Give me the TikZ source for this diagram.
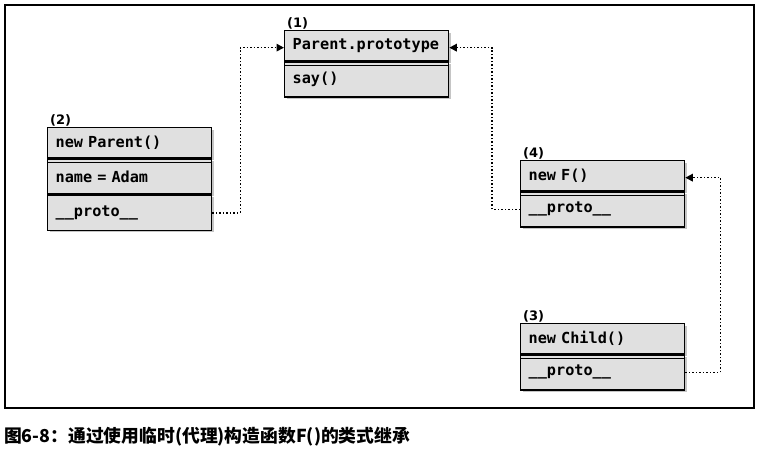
\documentclass[tikz,border=0pt]{standalone}
\usepackage{fontspec}
\setmonofont{DejaVu Sans Mono}
\setsansfont{DejaVu Sans}
\newfontfamily\cjkfont{Noto Sans CJK SC}
\usetikzlibrary{arrows.meta,shadows}

\begin{document}
\begin{tikzpicture}[x=1pt, y=-1pt, >={Triangle[length=7.5pt,width=7.5pt]},
    cell/.style={draw, line width=1.3pt, fill=black!12, anchor=north west,
        minimum width=164pt, text width=148pt, inner xsep=8pt, align=left,
        font=\ttfamily\bfseries\fontsize{15.2}{17}\selectfont,
        drop shadow={shadow xshift=2pt, shadow yshift=-2pt, fill=black!45}},
    head/.style={cell, minimum height=30pt},
    body/.style={cell, minimum height=35pt},
    tag/.style={anchor=south west, inner sep=1pt, font=\sffamily\bfseries\fontsize{13}{15}\selectfont},
    link/.style={->, dotted, line width=1.5pt}]
    \useasboundingbox (0,0) rectangle (760,455);
    \draw[line width=1.3pt] (5,5) rectangle (754,408);

    % (1) the prototype
    \node[head] (p1head) at (284,30) {Parent.prototype};
    \node[body] (p1say) at (p1head.south west) {say()};
    \draw[line width=1.3pt] ([yshift=-4pt]p1head.south west) -- ([yshift=-4pt]p1head.south east);
    \node[tag] (t1) at ([xshift=2pt]p1head.north west) {(1)};

    % (2) parent object
    \node[head] (p2head) at (47,127) {new Parent()};
    \node[body] (p2name) at (p2head.south west) {name = Adam};
    \node[body] (p2proto) at (p2name.south west) {\_\_proto\_\_};
    \draw[line width=1.3pt] ([yshift=-4pt]p2head.south west) -- ([yshift=-4pt]p2head.south east);
    \node[tag] (t2) at ([xshift=2pt]p2head.north west) {(2)};

    % (4) temporary proxy
    \node[head] (p4head) at (520,160) {new F()};
    \node[body] (p4proto) at (p4head.south west) {\_\_proto\_\_};
    \draw[line width=1.3pt] ([yshift=-4pt]p4head.south west) -- ([yshift=-4pt]p4head.south east);
    \node[tag] (t4) at ([xshift=2pt]p4head.north west) {(4)};

    % (3) child object
    \node[head] (p3head) at (520,323) {new Child()};
    \node[body] (p3proto) at (p3head.south west) {\_\_proto\_\_};
    \draw[line width=1.3pt] ([yshift=-4pt]p3head.south west) -- ([yshift=-4pt]p3head.south east);
    \node[tag] (t3) at ([xshift=2pt]p3head.north west) {(3)};

    % prototype links
    \draw[link] (p2proto.east) -- ++(28,0) |- ([yshift=-2pt]p1head.west);
    \draw[link] (p4proto.west) -- ++(-28,0) |- ([yshift=-2pt]p1head.east);
    \draw[link] (p3proto.east) -- ++(35,0) |- ([yshift=-2pt]p4head.east);

    \node[anchor=west, inner sep=0pt, font=\cjkfont\bfseries\fontsize{17.8}{20}\selectfont]
        (caption) at (4,437) {图6-8：通过使用临时(代理)构造函数F()的类式继承};
\end{tikzpicture}
\end{document}
